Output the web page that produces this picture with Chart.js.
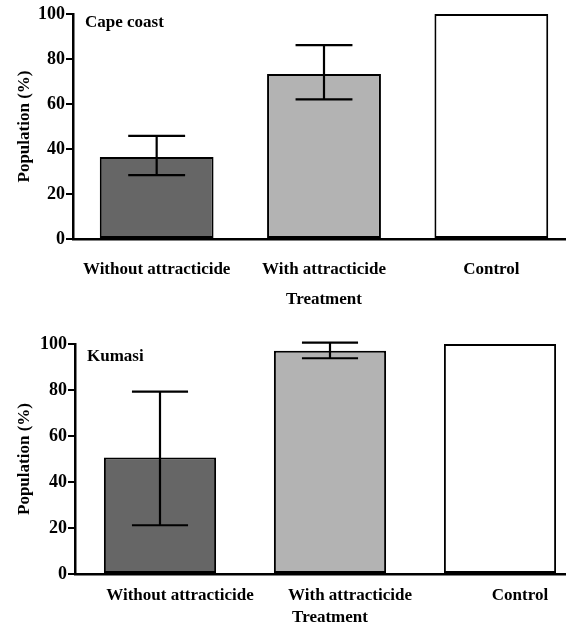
<!DOCTYPE html>
<html>
<head>
<meta charset="utf-8">
<script src="https://cdn.jsdelivr.net/npm/chart.js@4"></script>
<style>
  html, body { margin: 0; padding: 0; background: #fff; overflow: hidden; }
  body { width: 566px; height: 638px; position: relative; }
  .panel { position: absolute; left: 0; }
</style>
</head>
<body>
<div class="panel" style="top:0"><canvas id="cape" width="575" height="315"></canvas></div>
<div class="panel" style="top:320px"><canvas id="kumasi" width="585" height="318"></canvas></div>
<script>
const treatments = ["Without attracticide", "With attracticide", "Control"];
const yTicks = [0, 20, 40, 60, 80, 100];
const barColors = ["#666666", "#b3b3b3", "#ffffff"];

const capeMean = [36.4, 73.3, 100];
const capeLow = [28.4, 62.1, null];
const capeHigh = [45.8, 86.2, null];

const kumasiMean = [50.7, 97.1, 100];
const kumasiLow = [21.2, 93.8, null];
const kumasiHigh = [79.3, 100.6, null];

const serif = "'Liberation Serif', 'Times New Roman', serif";

// error bars + site name, positioned from the chart's own scales
const errorBars = {
  id: "errorBars",
  afterDatasetsDraw(chart, args, opts) {
    const ctx = chart.ctx;
    const y = chart.scales.y;
    const meta = chart.getDatasetMeta(0);
    ctx.save();
    ctx.strokeStyle = "#000";
    ctx.lineWidth = 2.2;
    meta.data.forEach((bar, i) => {
      if (opts.low[i] == null) return;
      const x = bar.x;
      const half = bar.width * 0.25;
      const yl = y.getPixelForValue(opts.low[i]);
      const yh = y.getPixelForValue(opts.high[i]);
      ctx.beginPath();
      ctx.moveTo(x, yl); ctx.lineTo(x, yh);
      ctx.moveTo(x - half, yl); ctx.lineTo(x + half, yl);
      ctx.moveTo(x - half, yh); ctx.lineTo(x + half, yh);
      ctx.stroke();
    });
    ctx.fillStyle = "#000";
    ctx.font = "bold 17px " + serif;
    ctx.textBaseline = "middle";
    ctx.fillText(opts.site, chart.chartArea.left + opts.labelDx, chart.chartArea.top + opts.labelDy);
    ctx.restore();
  }
};

const makeChart = (id, mean, low, high, site, cfg) => {
  return new Chart(document.getElementById(id), {
    type: "bar",
    data: {
      labels: treatments,
      datasets: [{
        data: mean,
        backgroundColor: barColors,
        borderColor: "#000",
        borderWidth: 2,
        borderSkipped: false,
        barPercentage: cfg.barPct,
        categoryPercentage: 1
      }]
    },
    options: {
      responsive: false,
      animation: false,
      layout: { padding: { top: cfg.top, left: 0, right: 0, bottom: 0 } },
      plugins: {
        legend: { display: false },
        tooltip: { enabled: false },
        errorBars: { low: low, high: high, site: site, labelDx: 12, labelDy: cfg.labelDy }
      },
      scales: {
        x: {
          offset: true,
          grid: { display: false, drawTicks: false },
          border: { display: true, color: "#000", width: 2.5 },
          ticks: { color: "#000", padding: cfg.tickPad, labelOffset: cfg.labelShift, maxRotation: 0, font: { family: serif, size: 17, weight: "bold" } },
          title: { display: true, text: "Treatment", color: "#000", padding: { top: 0, bottom: cfg.titlePad }, font: { family: serif, size: 17, weight: "bold" } },
          afterFit: (s) => { s.height = cfg.xh; }
        },
        y: {
          min: 0,
          max: 100,
          afterBuildTicks: (s) => { s.ticks = yTicks.map(v => ({ value: v })); },
          grid: { display: true, drawOnChartArea: false, drawTicks: true, tickLength: 7, color: "#000", lineWidth: 2 },
          border: { display: true, color: "#000", width: 2.5 },
          ticks: { color: "#000", padding: 1, font: { family: serif, size: 18, weight: "bold" } },
          title: { display: true, text: "Population (%)", color: "#000", padding: { top: 14, bottom: 0 }, font: { family: serif, size: 17, weight: "bold" } },
          afterFit: (s) => { s.width = cfg.yw; }
        }
      }
    },
    plugins: [errorBars]
  });
};

makeChart("cape", capeMean, capeLow, capeHigh, "Cape coast",
  { top: 14, xh: 76, yw: 73, tickPad: 20, titlePad: 5, barPct: 0.68, labelDy: 9, labelShift: 0 });
makeChart("kumasi", kumasiMean, kumasiLow, kumasiHigh, "Kumasi",
  { top: 24, xh: 64, yw: 75, tickPad: 11, titlePad: 10, barPct: 0.66, labelDy: 13, labelShift: 20 });
</script>
</body>
</html>
